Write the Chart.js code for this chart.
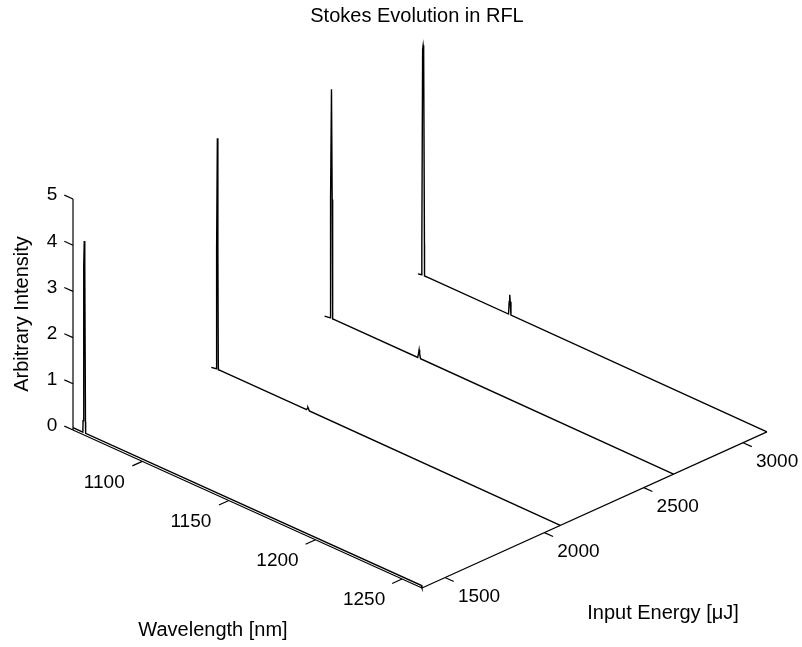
<!DOCTYPE html>
<html>
<head>
<meta charset="utf-8">
<script src="https://cdn.jsdelivr.net/npm/chart.js@4.4.0/dist/chart.umd.min.js"></script>
<style>
  html, body { margin: 0; padding: 0; background: #fff; }
  #wrap { width: 802px; height: 647px; }
</style>
</head>
<body>
<div id="wrap"><canvas id="mycanvas" width="802" height="647"></canvas></div>
<script>
// input energy of each spectrum [uJ], front to back
var energies = [1384, 2080, 2650, 3120];

// spectra: wavelength [nm] and intensity samples
var wl1  = [1060, 1065.7, 1065.8, 1066.2, 1066.5, 1066.8, 1067.2, 1067.3, 1261, 1261.5];
var int1 = [0.05, 0.05, 0.3, 3.65, 4.2, 3.65, 0.3, 0.05, 0.05, 0];

var wl2  = [1060, 1062.9, 1062.95, 1063.2, 1063.5, 1063.8, 1064.05, 1064.1, 1066, 1115, 1115.5, 1115.8, 1116.1, 1116.6, 1261.5];
var int2 = [0, 0.02, 0.1, 2.6, 5.02, 2.6, 0.1, 0.02, 0.02, 0.02, 0.06, 0.08, 0.06, 0.02, 0];

var wl3  = [1060, 1063.3, 1063.35, 1063.6, 1064.0, 1064.4, 1064.65, 1064.7, 1066, 1113.8, 1114.3, 1114.6, 1114.9, 1115.4, 1261.5];
var int3 = [0, 0.02, 0.1, 2.6, 4.98, 2.6, 0.1, 0.02, 0.02, 0.02, 0.12, 0.2, 0.12, 0.02, 0];

var wl4  = [1060, 1062.2, 1062.25, 1062.7, 1063.0, 1063.3, 1063.75, 1063.8, 1066, 1112.3, 1112.7, 1113.0, 1113.3, 1113.7, 1261.5];
var int4 = [0, 0.02, 0.7, 4.9, 5.0, 4.9, 0.7, 0.02, 0.02, 0.02, 0.3, 0.45, 0.3, 0.02, 0];

var spectraWl  = [wl1, wl2, wl3, wl4];
var spectraInt = [int1, int2, int3, int4];

// axis ranges and tick labels
var wlRange = [1060, 1261.5];
var eRange  = [1384, 3120];
var zRange  = [0, 5];
var wlTicks = [1100, 1150, 1200, 1250];
var eTicks  = [1500, 2000, 2500, 3000];
var zTicks  = [0, 1, 2, 3, 4, 5];

// orthographic view: screen offset per unit along each data axis
var view = { ox: 73, oy: 430, wx: 1.732, wy: 0.784, ex: 0.1987, ey: -0.0899, zy: -46.2 };

function proj(w, e, z) {
  var dw = w - wlRange[0], de = e - eRange[0];
  return {
    x: view.ox + view.wx * dw + view.ex * de,
    y: view.oy + view.wy * dw + view.ey * de + view.zy * z
  };
}

function lineSet(points, width) {
  return {
    data: points,
    showLine: true,
    borderColor: '#000',
    borderWidth: width || 1,
    pointRadius: 0,
    tension: 0,
    fill: false
  };
}

var datasets = [];

// box axes
datasets.push(lineSet([proj(wlRange[0], eRange[0], zRange[0]), proj(wlRange[0], eRange[0], zRange[1])], 1.2));
datasets.push(lineSet([proj(wlRange[0], eRange[0], 0), proj(wlRange[1], eRange[0], 0)], 1.2));
datasets.push(lineSet([proj(wlRange[1], eRange[0], 0), proj(wlRange[1], eRange[1], 0)], 1.2));

// tick marks
zTicks.forEach(function(t) {
  datasets.push(lineSet([proj(wlRange[0], eRange[0], t), proj(wlRange[0] - 5, eRange[0], t)], 1.2));
});
wlTicks.forEach(function(t) {
  datasets.push(lineSet([proj(t, eRange[0], 0), proj(t, eRange[0] - 50, 0)], 1.2));
});
eTicks.forEach(function(t) {
  datasets.push(lineSet([proj(wlRange[1], t, 0), proj(wlRange[1] + 5, t, 0)], 1.2));
});

// spectra
for (var i = 0; i < energies.length; i++) {
  var pts = [];
  for (var j = 0; j < spectraWl[i].length; j++) {
    pts.push(proj(spectraWl[i][j], energies[i], spectraInt[i][j]));
  }
  datasets.push(lineSet(pts, 1.4));
}

var FONT = '"Liberation Sans", Arial, sans-serif';

var textPlugin = {
  id: 'text3d',
  afterDatasetsDraw: function(chart) {
    var ctx = chart.ctx, sx = chart.scales.x, sy = chart.scales.y;
    function at(p) { return [sx.getPixelForValue(p.x), sy.getPixelForValue(p.y)]; }
    ctx.save();
    ctx.fillStyle = '#000';
    ctx.textBaseline = 'middle';

    ctx.font = '19px ' + FONT;
    ctx.textAlign = 'right';
    zTicks.forEach(function(t) {
      var p = at(proj(wlRange[0] - 5, eRange[0], t));
      ctx.fillText(String(t), p[0] - 7, p[1]);
    });
    ctx.textAlign = 'center';
    wlTicks.forEach(function(t) {
      var p = at(proj(t, eRange[0], 0));
      ctx.fillText(String(t), p[0] - 38, p[1] + 21);
    });
    eTicks.forEach(function(t) {
      var p = at(proj(wlRange[1], t, 0));
      ctx.fillText(String(t), p[0] + 34, p[1] + 19);
    });

    ctx.font = '20px ' + FONT;
    ctx.fillText('Stokes Evolution in RFL', 417, 16);
    ctx.fillText('Wavelength [nm]', 213, 630);
    ctx.fillText('Input Energy [\u03bcJ]', 663, 613);
    ctx.translate(22, 314);
    ctx.rotate(-Math.PI / 2);
    ctx.fillText('Arbitrary Intensity', 0, 0);
    ctx.restore();
  }
};

var ctx = document.getElementById('mycanvas');

var Graph = new Chart(ctx, {
  type: 'scatter',
  data: { datasets: datasets },
  options: {
    responsive: false,
    animation: false,
    events: [],
    layout: { padding: 0 },
    plugins: { legend: { display: false }, tooltip: { enabled: false }, title: { display: false } },
    scales: {
      x: { type: 'linear', min: 0, max: 802, display: false },
      y: { type: 'linear', min: 0, max: 647, reverse: true, display: false }
    }
  },
  plugins: [textPlugin]
});
</script>
</body>
</html>
